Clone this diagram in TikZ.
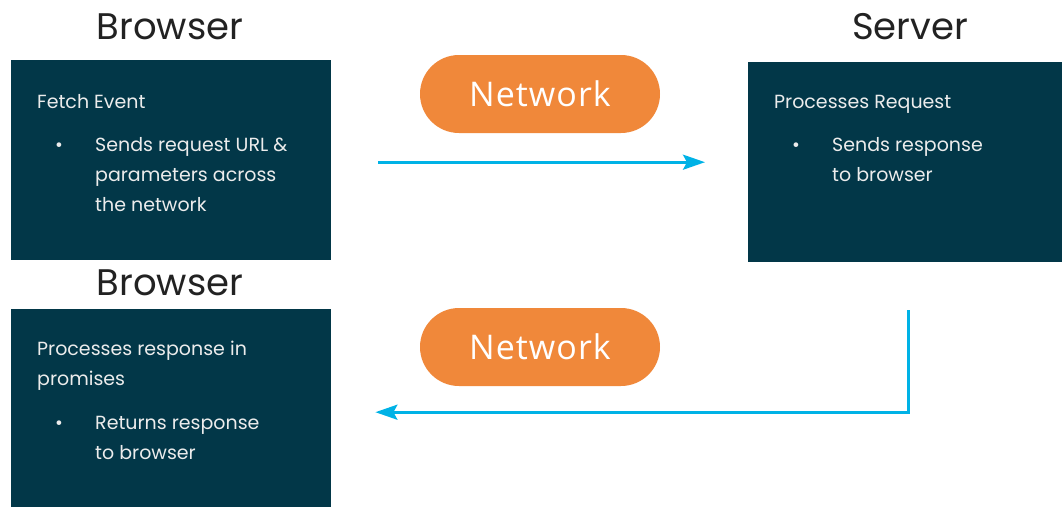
\documentclass[tikz,border=0pt]{standalone}
\usepackage{fontspec}
\setmainfont{Poppins}
\newfontfamily\pillfont[LetterSpace=3]{Open Sans}
\usetikzlibrary{arrows.meta}

\definecolor{panelblue}{RGB}{2,55,72}
\definecolor{pillorange}{RGB}{240,136,58}
\definecolor{flowcyan}{RGB}{0,178,230}
\definecolor{titlegray}{RGB}{34,34,34}
\definecolor{paneltext}{RGB}{236,236,236}

\tikzset{
  heading/.style={text=titlegray, font=\fontsize{37}{40}\selectfont},
  panel/.style={fill=panelblue, anchor=north west, inner sep=0pt},
  caption/.style={text=paneltext, anchor=base west, inner sep=0pt, align=left, font=\fontsize{19}{30}\selectfont},
  pill/.style={fill=pillorange, rounded corners=39pt, minimum width=240pt, minimum height=78pt,
    text=white, font=\pillfont\fontsize{34}{36}\selectfont},
  flow/.style={draw=flowcyan, line width=2.8pt, -{Stealth[length=22pt,width=15pt,inset=4pt]}}
}

\begin{document}
\begin{tikzpicture}[x=1pt, y=-1pt]
    \useasboundingbox (0,0) rectangle (1062,507);

    % panels
    \node[panel, minimum width=320pt, minimum height=200pt] (Req) at (11,60) {};
    \node[panel, minimum width=314pt, minimum height=200pt] (Srv) at (748,62) {};
    \node[panel, minimum width=320pt, minimum height=198pt] (Res) at (11,309) {};

    \node[heading] (ReqT) at (170,27) {Browser};
    \node[heading] (SrvT) at (910,27) {Server};
    \node[heading] (ResT) at (170,283) {Browser};

    % request side (multi-line captions sit on their last baseline)
    \node[caption] (ReqH) at (37,108) {Fetch Event};
    \node[caption] (ReqB) at (55,151) {•};
    \node[caption] (ReqL) at (95,211) {Sends request URL \&\\parameters across\\the network};

    % server side
    \node[caption] (SrvH) at (774,108) {Processes Request};
    \node[caption] (SrvB) at (792,151) {•};
    \node[caption] (SrvL) at (832,181) {Sends response\\to browser};

    % response side
    \node[caption] (ResH) at (37,385) {Processes response in\\promises};
    \node[caption] (ResB) at (55,429) {•};
    \node[caption] (ResL) at (95,459) {Returns response\\to browser};

    % network hops
    \node[pill] (Net1) at (540,94) {Network};
    \node[pill] (Net2) at (540,347) {Network};

    \draw[flow, shorten <=47pt, shorten >=43pt] ([yshift=-2pt]Req.east) -- ([yshift=-2pt]Req.east -| Srv.west);
    \draw[flow, shorten <=48pt, shorten >=44pt] ([xshift=3pt]Srv.south) |- ([yshift=-4pt]Res.east);
\end{tikzpicture}
\end{document}
